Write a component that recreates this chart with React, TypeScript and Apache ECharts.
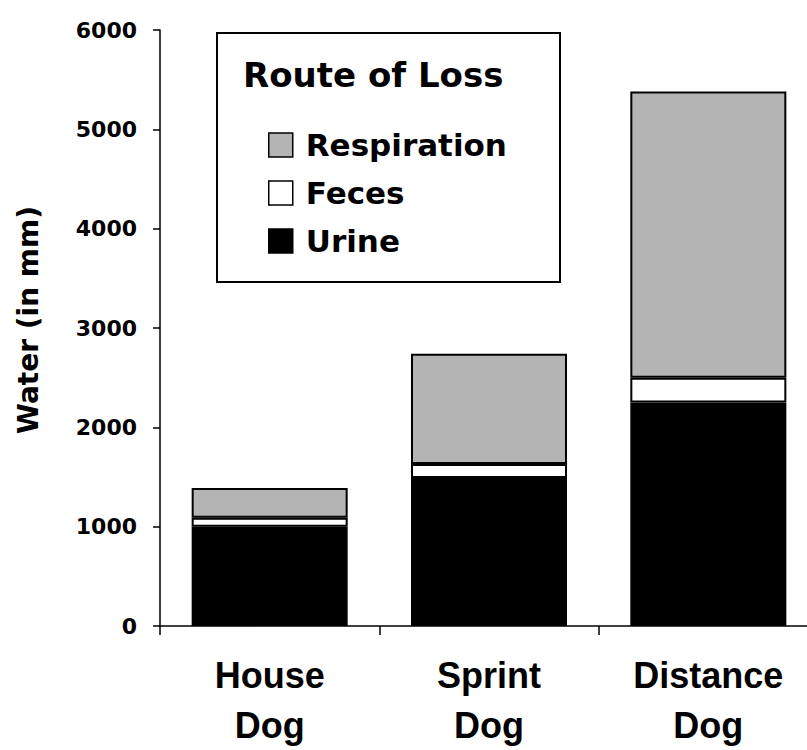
import React, { useEffect, useRef } from "react";
import * as echarts from "echarts";

const categories = ["House\nDog", "Sprint\nDog", "Distance\nDog"];
const urine = [1000, 1490, 2250];
const feces = [90, 140, 250];
const respiration = [300, 1110, 2880];
const yTicks = { min: 0, max: 6000, interval: 1000 };
const legendTitle = "Route of Loss";
const yName = "Water (in mm)";

const FONT = "'DejaVu Sans', Verdana, sans-serif";
const CAT_FONT = "'Liberation Sans', Arial, sans-serif";

export default function App() {
  const ref = useRef<HTMLDivElement>(null);
  useEffect(() => {
    if (!ref.current) return;
    const chart = echarts.init(ref.current, undefined, { renderer: "svg" });
    const border = { borderColor: "#000", borderWidth: 2 };
    chart.setOption({
      animation: false,
      backgroundColor: "#fff",
      title: {
        text: legendTitle,
        left: 243,
        top: 58,
        padding: 0,
        textStyle: { fontFamily: FONT, fontWeight: "bold", fontSize: 34, color: "#000" },
      },
      legend: {
        data: ["Respiration", "Feces", "Urine"],
        orient: "vertical",
        left: 268,
        top: 129,
        padding: 0,
        itemWidth: 24,
        itemHeight: 24,
        itemGap: 16,
        icon: "rect",
        itemStyle: { borderColor: "#000", borderWidth: 1.5 },
        textStyle: {
          fontFamily: FONT,
          fontWeight: "bold",
          fontSize: 31,
          lineHeight: 32,
          color: "#000",
          padding: [0, 0, 0, 8],
        },
      },
      graphic: [
        {
          type: "rect",
          shape: { x: 217, y: 33, width: 343, height: 249 },
          style: { fill: "none", stroke: "#000", lineWidth: 2 },
          z: 10,
        },
      ],
      grid: { left: 160, right: 0, top: 30, bottom: 120, containLabel: false },
      xAxis: {
        type: "category",
        data: categories,
        axisLine: { lineStyle: { color: "#000", width: 1.5 } },
        axisTick: { show: true, length: 9, lineStyle: { color: "#000", width: 1.5 } },
        axisLabel: {
          interval: 0,
          margin: 24,
          fontFamily: CAT_FONT,
          fontWeight: "bold",
          fontSize: 36,
          lineHeight: 50,
          color: "#000",
        },
      },
      yAxis: {
        type: "value",
        min: yTicks.min,
        max: yTicks.max,
        interval: yTicks.interval,
        name: yName,
        nameLocation: "middle",
        nameGap: 118,
        nameRotate: 90,
        nameTextStyle: {
          fontFamily: FONT,
          fontWeight: "bold",
          fontSize: 28,
          color: "#000",
          padding: [0, 0, 0, 16],
        },
        splitLine: { show: false },
        axisLine: { show: true, lineStyle: { color: "#000", width: 1.5 } },
        axisTick: { show: true, length: 7, lineStyle: { color: "#000", width: 1.5 } },
        axisLabel: {
          margin: 23,
          formatter: (v: number) => String(v),
          fontFamily: FONT,
          fontWeight: "bold",
          fontSize: 22,
          color: "#000",
          padding: [0, 0, 8, 0],
        },
      },
      series: [
        {
          name: "Urine",
          type: "bar",
          stack: "loss",
          barWidth: 156,
          data: urine,
          itemStyle: { color: "#000", ...border },
        },
        {
          name: "Feces",
          type: "bar",
          stack: "loss",
          barWidth: 156,
          data: feces,
          itemStyle: { color: "#fff", ...border },
        },
        {
          name: "Respiration",
          type: "bar",
          stack: "loss",
          barWidth: 156,
          data: respiration,
          itemStyle: { color: "#b4b4b4", ...border },
        },
      ],
    });
    return () => chart.dispose();
  }, []);
  return (
    <div
      style={{
        position: "absolute",
        left: 0,
        top: 0,
        width: 807,
        height: 750,
        overflow: "hidden",
        background: "#fff",
      }}
    >
      <div ref={ref} style={{ width: 818, height: 750 }} />
    </div>
  );
}
